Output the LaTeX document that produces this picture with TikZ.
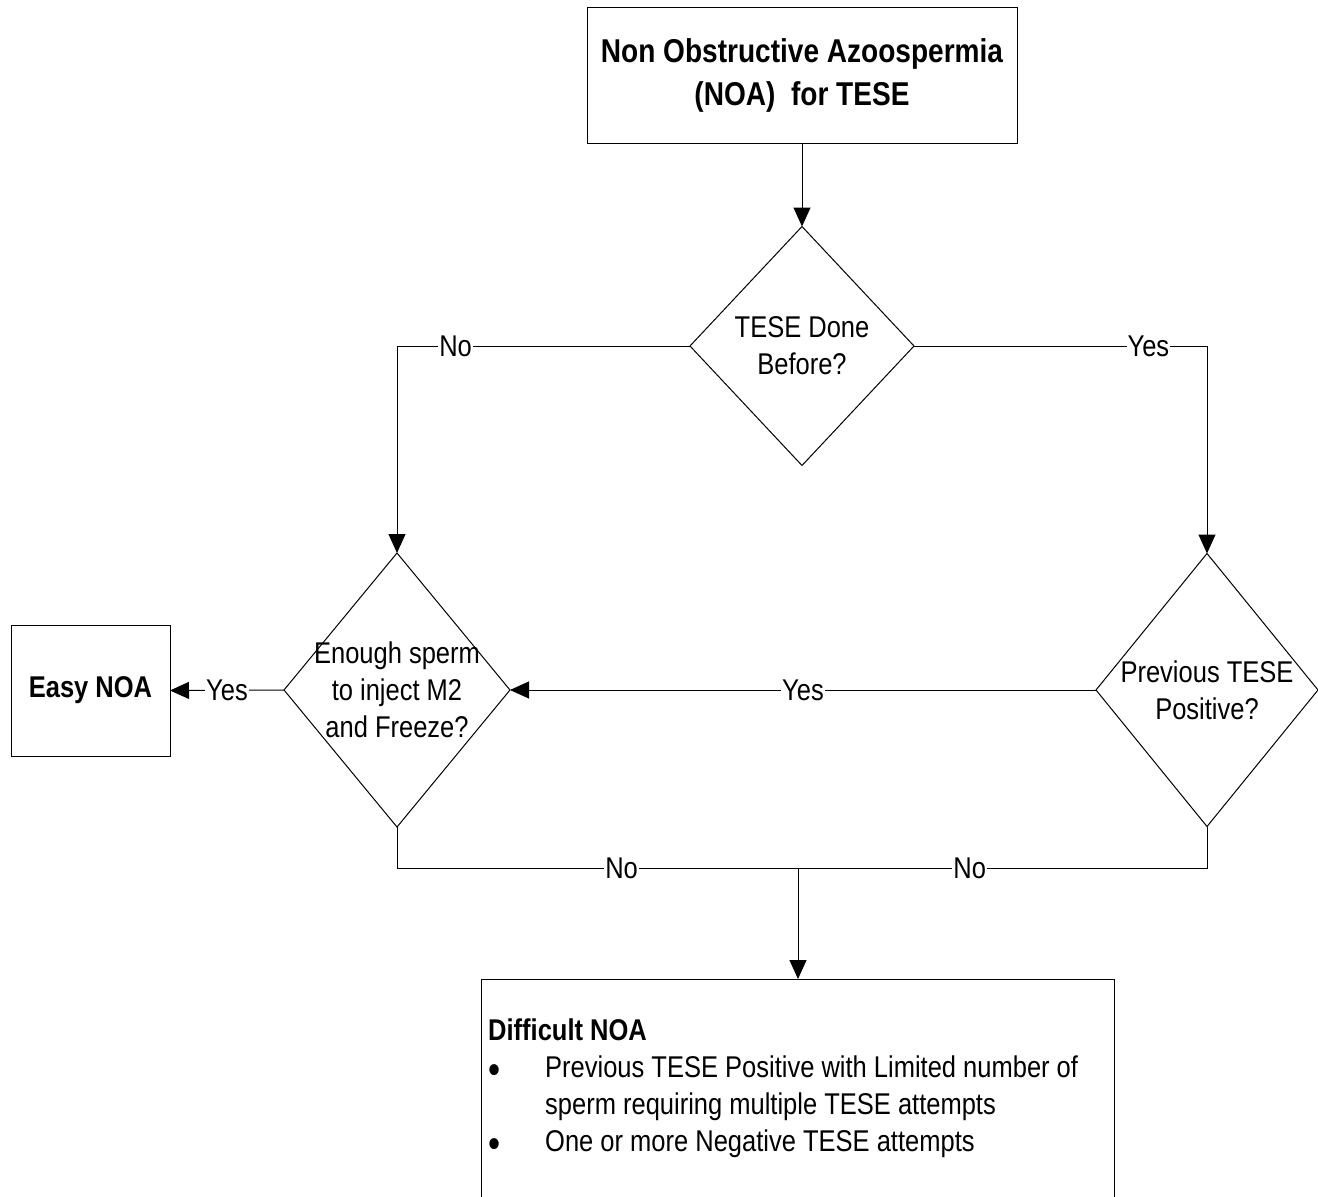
\documentclass[tikz,border=0pt]{standalone}
\usepackage{graphicx}
\usepackage{fontspec}
\setmainfont[FakeStretch=0.85]{Liberation Sans}
\usetikzlibrary{arrows.meta,shapes.geometric}

\newcommand{\bigbullet}{\raisebox{-6pt}{\scalebox{1.35}{\textbullet}}}

\begin{document}
\begin{tikzpicture}[x=1pt,y=-1pt,
    box/.style={draw,line width=1pt,inner sep=0pt,outer sep=0pt},
    decision/.style={draw,diamond,line width=1pt,inner sep=0pt,outer sep=0pt,minimum width=224pt,minimum height=239pt},
    qtext/.style={align=center,inner sep=0pt,font=\fontsize{30}{37}\selectfont},
    lbl/.style={fill=white,inner xsep=1pt,inner ysep=0pt,font=\fontsize{30}{37}\selectfont},
    link/.style={line width=1pt},
    arr/.style={line width=1pt,-{Triangle[width=17pt,length=19pt]}}]

  \useasboundingbox (0,0) rectangle (1318,1197);
  \clip (0,0) rectangle (1318,1197);

  \node[box,minimum width=430pt,minimum height=136pt,align=center,font=\bfseries\fontsize{33}{43}\selectfont] (noa) at (802,75) {Non Obstructive Azoospermia\\(NOA)\ \ for TESE};

  \node[decision] (tese) at (802,346) {};
  \node[qtext] (tesetxt) at (tese) {TESE Done\\Before?};

  \node[decision,minimum width=226pt,minimum height=274pt] (enough) at (397,690) {};
  \node[qtext] (enoughtxt) at (enough) {Enough sperm\\to inject M2\\and Freeze?};

  \node[decision,minimum width=222pt,minimum height=273pt] (prev) at (1207,690) {};
  \node[qtext] (prevtxt) at (prev) {Previous TESE\\Positive?};

  \node[box,minimum width=159pt,minimum height=131pt,font=\bfseries\fontsize{30}{37}\selectfont] (easy) at (90.5,690.5) {Easy NOA};

  \node[box,minimum width=633pt,minimum height=230pt,anchor=north west] (difficult) at (481,979) {};
  \node[anchor=north west,align=left,inner sep=0pt,font=\fontsize{30}{37}\selectfont] (difficulttxt) at ([shift={(7,40)}]difficult.north west) {{\bfseries Difficult NOA}\\
    \makebox[57pt][l]{\bigbullet}Previous TESE Positive with Limited number of\\
    \hspace*{57pt}sperm requiring multiple TESE attempts\\
    \makebox[57pt][l]{\bigbullet}One or more Negative TESE attempts};

  \draw[arr] (noa) -- (tese);
  \draw[arr] (tese.west) -| node[lbl,pos=0.4] (teseno) {No} (enough.north);
  \draw[arr] (tese.east) -| node[lbl,pos=0.4] (teseyes) {Yes} (prev.north);
  \draw[arr] (prev.west) -- node[lbl] (prevyes) {Yes} (enough.east);
  \draw[arr] (enough.west) -- node[lbl] (enoughyes) {Yes} (easy.east);

  \coordinate (join) at (798,868);
  \draw[link] (enough.south) |- node[lbl,pos=0.78] (enoughno) {No} (join);
  \draw[link] (prev.south) |- node[lbl,pos=0.79] (prevno) {No} (join);
  \draw[arr] (join) -- (join |- difficult.north);

\end{tikzpicture}
\end{document}
